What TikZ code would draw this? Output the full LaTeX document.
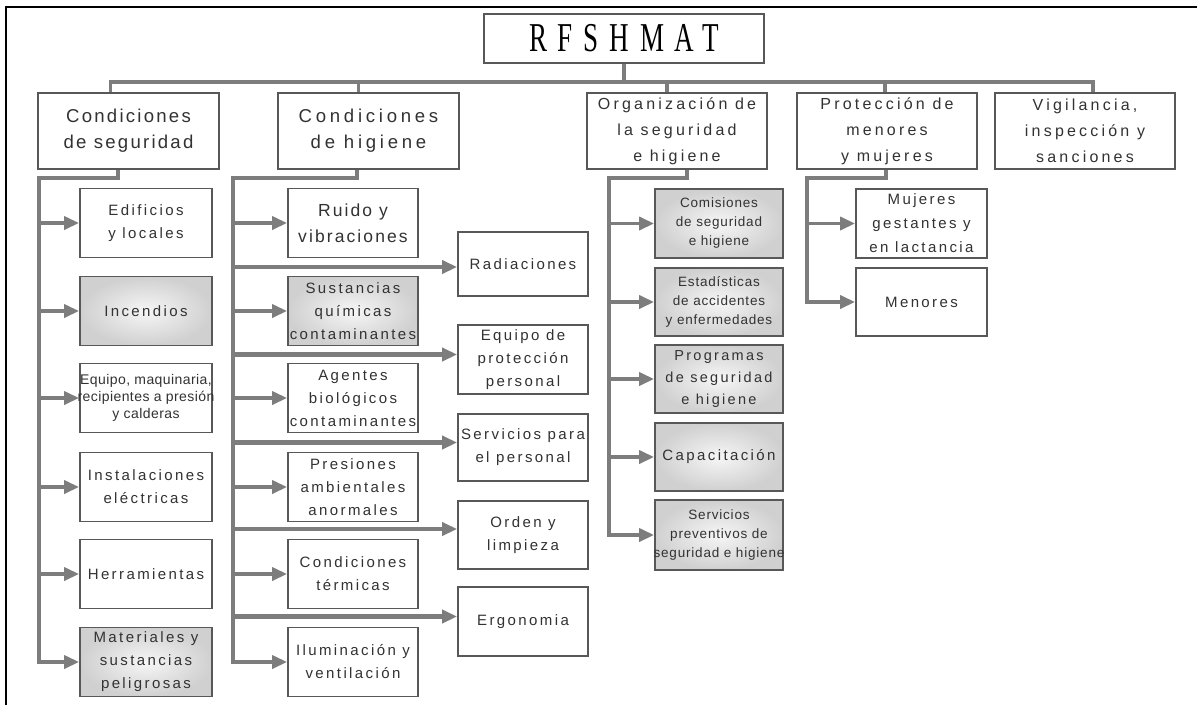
\documentclass[tikz,border=0pt]{standalone}
\usepackage{fontspec}
\usepackage{tikz}
\usetikzlibrary{arrows.meta}
\setmainfont{Liberation Sans}
\newfontfamily\titlefont[LetterSpace=40]{Liberation Serif}
\newfontfamily\headfont[LetterSpace=12]{Liberation Sans}
\newfontfamily\headwidefont[LetterSpace=20]{Liberation Sans}
\newfontfamily\itemfont[LetterSpace=16]{Liberation Sans}
\newfontfamily\smallfont[LetterSpace=6]{Liberation Sans}
\newfontfamily\tightfont[LetterSpace=3]{Liberation Sans}
\definecolor{LineGray}{RGB}{125,125,125}
\definecolor{BoxEdge}{RGB}{88,88,88}
\definecolor{InkGray}{RGB}{50,50,50}
\definecolor{ShadeIn}{RGB}{246,246,246}
\definecolor{ShadeOut}{RGB}{208,208,208}
\newcommand{\spill}[1]{\makebox[0pt]{#1}}
\tikzset{
  box/.style={draw=BoxEdge, line width=1.8pt, fill=white, text=InkGray, align=center, inner sep=0pt},
  shadebox/.style={inner color=ShadeIn, outer color=ShadeOut},
  titlebox/.style={box, minimum width=280pt, minimum height=49pt, text=black, font=\titlefont\fontsize{41}{41}\selectfont},
  head/.style={box, minimum width=181pt, minimum height=76pt, font=\headfont\fontsize{18.6}{26}\selectfont},
  headsm/.style={box, minimum width=180pt, minimum height=76pt, font=\headwidefont\fontsize{16}{26}\selectfont},
  item/.style={box, minimum width=130pt, minimum height=69pt, font=\itemfont\fontsize{15}{23}\selectfont},
  itemsm/.style={item, font=\smallfont\fontsize{13.5}{19}\selectfont},
  line/.style={draw=LineGray, line width=3.5pt},
  arr/.style={line, -{Triangle[length=15pt,width=13pt]}},
  arrlong/.style={arr, line width=4.5pt}
}
\begin{document}
\begin{tikzpicture}[x=1pt, y=-1pt]
  \useasboundingbox (0,0) rectangle (1197,705);
  \draw[black, line width=2.5pt] (6,705) |- (1197,7);

  % top level
  \node[titlebox] (title) at (624,38.5) {\scalebox{0.66}[1]{RFSHMAT}};
  \node[head] (seg) at (128.5,131) {Condiciones\\de seguridad};
  \node[head, font=\headwidefont\fontsize{18.6}{26}\selectfont] (hig) at (368.5,131) {Condiciones\\de higiene};
  \node[headsm] (org) at (677,131) {Organización de\\la seguridad\\e higiene};
  \node[headsm] (pro) at (887,131) {Protección de\\menores\\y mujeres};
  \node[headsm] (vig) at (1085,131) {Vigilancia,\\inspección y\\sanciones};

  % condiciones de seguridad
  \node[item, minimum width=132pt] (edif) at (146,223) {Edificios\\y locales};
  \node[item, minimum width=132pt, shadebox] (incen) at (146,311) {Incendios};
  \node[item, minimum width=132pt, font=\tightfont\fontsize{14}{17}\selectfont] (equipo) at (146,398) {\spill{Equipo, maquinaria,}\\\spill{recipientes a presión}\\y calderas};
  \node[item, minimum width=132pt] (instal) at (146,487) {Instalaciones\\eléctricas};
  \node[item, minimum width=132pt] (herram) at (146,574) {Herramientas};
  \node[item, minimum width=132pt, shadebox] (mater) at (146,662) {Materiales y\\sustancias\\peligrosas};

  % condiciones de higiene
  \node[item, font=\headfont\fontsize{17.5}{26}\selectfont] (ruido) at (353,223) {Ruido y\\vibraciones};
  \node[item, shadebox] (sustan) at (353,311) {Sustancias\\químicas\\\spill{contaminantes}};
  \node[item] (agentes) at (353,398) {Agentes\\biológicos\\\spill{contaminantes}};
  \node[item] (presion) at (353,487) {Presiones\\ambientales\\anormales};
  \node[item] (termic) at (353,574) {Condiciones\\térmicas};
  \node[item] (ilumin) at (353,662) {Iluminación y\\ventilación};

  \node[item, minimum height=64pt] (radiac) at (523,264) {Radiaciones};
  \node[item] (epp) at (523,359.5) {Equipo de\\protección\\personal};
  \node[item, minimum height=67pt] (servp) at (523,447.5) {\spill{Servicios para}\\el personal};
  \node[item, minimum height=68pt] (orden) at (523,535) {Orden y\\limpieza};
  \node[item] (ergon) at (523,621.5) {Ergonomia};

  % organizacion
  \node[itemsm, minimum width=128pt, shadebox] (comis) at (719,223.5) {Comisiones\\de seguridad\\e higiene};
  \node[itemsm, minimum width=128pt, minimum height=68pt, shadebox] (estad) at (719,302) {Estadísticas\\de accidentes\\y enfermedades};
  \node[item, minimum width=128pt, minimum height=68pt, shadebox, font=\itemfont\fontsize{14.5}{22}\selectfont] (progr) at (719,379) {Programas\\de seguridad\\e higiene};
  \node[item, minimum width=128pt, minimum height=68pt, shadebox] (capac) at (719,457) {Capacitación};
  \node[itemsm, minimum width=128pt, minimum height=70pt, shadebox] (servprev) at (719,535) {Servicios\\preventivos de\\\spill{seguridad e higiene}};

  % proteccion
  \node[item, minimum width=131pt, font=\itemfont\fontsize{15}{24}\selectfont] (mujer) at (921.5,223.5) {Mujeres\\gestantes y\\en lactancia};
  \node[item, minimum width=131pt, minimum height=68pt] (menor) at (921.5,302) {Menores};

  % bus
  \coordinate (bus) at (624,82);
  \draw[line] (title.south) -- (title.south |- bus);
  \draw[line] ([xshift=-18pt]seg.north) |- ([xshift=8pt]vig.north |- bus) -- ([xshift=8pt]vig.north);
  \foreach \n/\s in {hig/-10, org/-10, pro/-2}
    \draw[line] ([xshift=\s pt]\n.north) -- ([xshift=\s pt]\n.north |- bus);

  % branches
  \coordinate (t1) at (39,178);
  \coordinate (t2) at (233,178);
  \coordinate (t3) at (609,178);
  \coordinate (t4) at (807,178);

  \draw[arr] ([xshift=-10.5pt]seg.south) |- (t1) |- (mater.west);
  \foreach \b in {edif, incen, equipo, instal, herram}
    \draw[arr] (t1 |- \b.west) -- (\b.west);

  \draw[arr] ([xshift=-11.5pt]hig.south) |- (t2) |- (ilumin.west);
  \foreach \b in {ruido, sustan, agentes, presion, termic}
    \draw[arr] (t2 |- \b.west) -- (\b.west);
  \foreach \b/\d in {radiac/-3, epp/5, servp/5, orden/6, ergon/5} {
    \path ([yshift=\d pt]\b.west) coordinate (\b-in);
    \draw[arrlong] (t2 |- \b-in) -- (\b-in);
  }

  \draw[arr] ([xshift=10pt]org.south) |- (t3) |- (servprev.west);
  \foreach \b in {comis, estad, progr, capac}
    \draw[arr] (t3 |- \b.west) -- (\b.west);

  \draw[arr] ([xshift=-1pt]pro.south) |- (t4) |- (menor.west);
  \draw[arr] (t4 |- mujer.west) -- (mujer.west);
\end{tikzpicture}
\end{document}
